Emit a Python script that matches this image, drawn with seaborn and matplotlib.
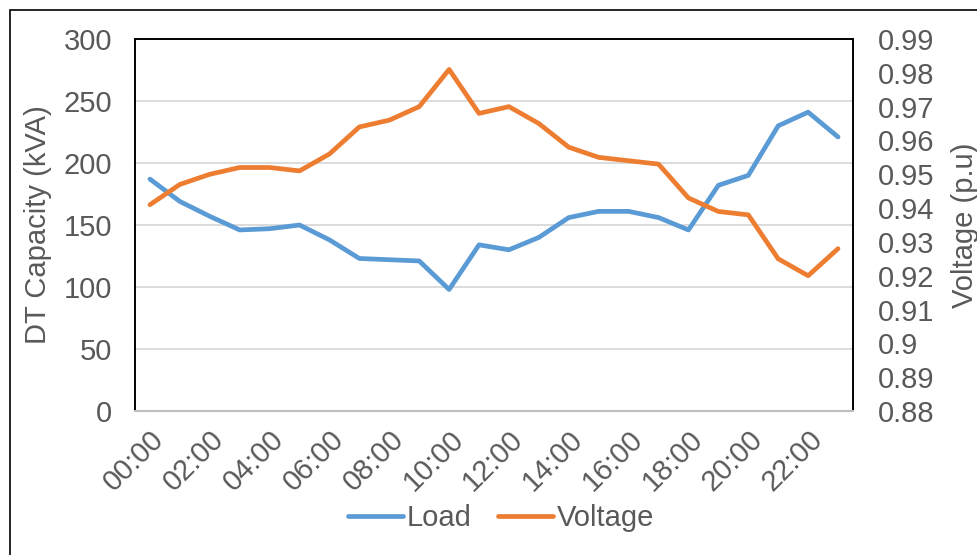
import matplotlib
matplotlib.use('Agg')
import matplotlib.pyplot as plt
import matplotlib.patches as patches
import matplotlib.transforms as mtransforms
from matplotlib.ticker import FuncFormatter
import seaborn as sns
import pandas as pd

sns.set_theme(style="white")
plt.rcParams['font.family'] = ['Liberation Sans', 'DejaVu Sans']

# Data (hourly)
hours = ['00:00', '01:00', '02:00', '03:00', '04:00', '05:00', '06:00', '07:00',
         '08:00', '09:00', '10:00', '11:00', '12:00', '13:00', '14:00', '15:00',
         '16:00', '17:00', '18:00', '19:00', '20:00', '21:00', '22:00', '23:00']
load = [187, 169, 157, 146, 147, 150, 138, 123, 122, 121, 98, 134,
        130, 140, 156, 161, 161, 156, 146, 182, 190, 230, 241, 221]
voltage = [0.941, 0.947, 0.950, 0.952, 0.952, 0.951, 0.956, 0.964, 0.966, 0.970, 0.981, 0.968,
           0.970, 0.965, 0.958, 0.955, 0.954, 0.953, 0.943, 0.939, 0.938, 0.925, 0.920, 0.928]

df = pd.DataFrame({'Hour': hours, 'Load': load, 'Voltage': voltage})

text_col = '#595959'
blue = '#5B9BD5'
orange = '#ED7D31'
fs = 21

fig = plt.figure(figsize=(9.78, 5.55), dpi=100)
ax = fig.add_axes([135 / 978, 144 / 555, 718 / 978, 372 / 555])
ax2 = ax.twinx()

sns.lineplot(data=df, x='Hour', y='Load', ax=ax, color=blue, linewidth=3.4,
             sort=False, label='Load', legend=False)
sns.lineplot(data=df, x='Hour', y='Voltage', ax=ax2, color=orange, linewidth=3.4,
             sort=False, label='Voltage', legend=False)

ax.set_xlim(-0.5, len(hours) - 0.5)
ax.set_ylim(0, 300)
ax.set_yticks(range(0, 301, 50))
ax2.set_ylim(0.88, 0.99)
ax2.set_yticks([0.88 + 0.01 * i for i in range(12)])
ax2.yaxis.set_major_formatter(FuncFormatter(lambda v, p: f'{round(v, 2):g}'))

ax.set_xticks(range(0, len(hours), 2))
ax.set_xticklabels(hours[::2], rotation=45, ha='right', va='top',
                   rotation_mode='anchor')
# nudge the rotated labels left so their ends sit under the ticks
shift = mtransforms.ScaledTranslation(-0.1, 0, fig.dpi_scale_trans)
for lbl in ax.get_xticklabels():
    lbl.set_transform(lbl.get_transform() + shift)

# gridlines
ax.grid(axis='y', color='#D9D9D9', linewidth=1.3)
ax.set_axisbelow(True)
ax2.grid(False)

ax.set_xlabel('')
ax.set_ylabel('DT Capacity (kVA)', fontsize=fs, color=text_col, labelpad=8)
ax2.set_ylabel('Voltage (p.u)', fontsize=fs, color=text_col, labelpad=12)

ax.tick_params(axis='y', length=0, labelsize=fs, labelcolor=text_col, pad=16.5)
ax.tick_params(axis='x', length=0, labelsize=fs, labelcolor=text_col, pad=10)
ax2.tick_params(axis='y', length=0, labelsize=fs, labelcolor=text_col, pad=18)

for a in (ax, ax2):
    for side in ('left', 'top', 'right'):
        a.spines[side].set_color('black')
        a.spines[side].set_linewidth(1.2)
    a.spines['bottom'].set_color('#BFBFBF')
    a.spines['bottom'].set_linewidth(1.5)

# legend below the plot
h1, l1 = ax.get_legend_handles_labels()
h2, l2 = ax2.get_legend_handles_labels()
fig.legend(h1 + h2, l1 + l2, loc='center', bbox_to_anchor=(0.512, 1 - 518 / 555), ncol=2,
           frameon=False, fontsize=fs, labelcolor=text_col, handlelength=1.9,
           handletextpad=0.12, columnspacing=0.9)

# outer chart border
fig.patches.append(patches.Rectangle((10 / 978, -0.1), 1.2, 1 - 10 / 555 + 0.1,
                                     transform=fig.transFigure, fill=False,
                                     edgecolor='black', linewidth=1.2))

fig.savefig('out.png', dpi=100)
